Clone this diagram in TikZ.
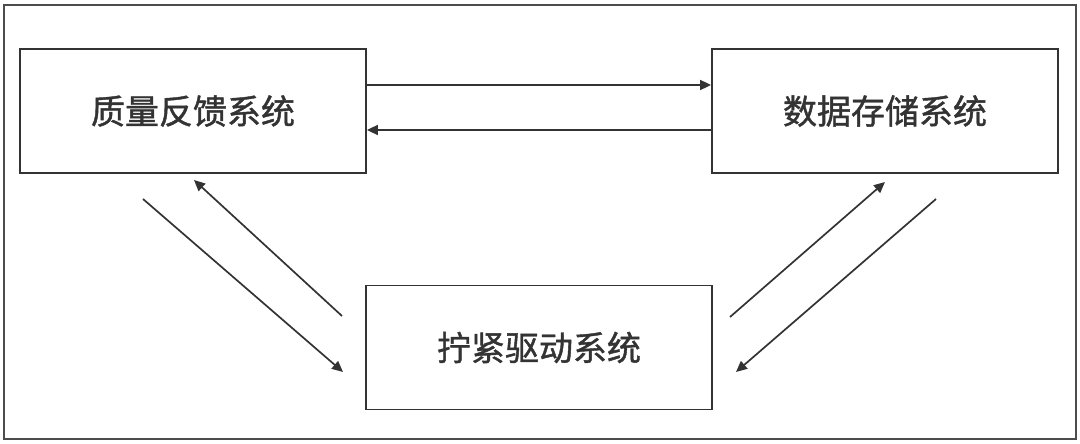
\documentclass[tikz,border=0pt]{standalone}
\usepackage{fontspec}
\newfontfamily\cjk[FakeBold=1.2]{Noto Sans CJK SC}
\usetikzlibrary{arrows.meta}
\begin{document}
\begin{tikzpicture}[x=1pt,y=-1pt,
  sysbox/.style={draw=black!80, line width=1.8pt, minimum width=346pt, minimum height=124pt, inner sep=0pt, font=\cjk\fontsize{34}{38}\selectfont, text=black!80},
  conn/.style={draw=black!80, line width=1.7pt, -{Triangle[length=11pt,width=10pt]}}]
\useasboundingbox (0,0) rectangle (1080,444);
\draw[black!70, line width=1.6pt] (4,5) rectangle (1076,439);
\node[sysbox] (qf) at (193,111) {质量反馈系统};
\node[sysbox] (ds) at (885,111) {数据存储系统};
\node[sysbox] (nj) at (539,347.5) {拧紧驱动系统};
\draw[conn] ([yshift=26pt]qf.east) -- ([yshift=26pt]ds.west);
\draw[conn] ([yshift=-19pt]ds.west) -- ([yshift=-19pt]qf.east);
\coordinate (a1s) at (143,199);
\coordinate (a1e) at (343,372);
\coordinate (a2s) at (342,316);
\coordinate (a2e) at (194,180);
\coordinate (b1s) at (730,317);
\coordinate (b1e) at (885,182);
\coordinate (b2s) at (936,199);
\coordinate (b2e) at (736,372);
\draw[conn] (a1s) -- (a1e);
\draw[conn] (a2s) -- (a2e);
\draw[conn] (b1s) -- (b1e);
\draw[conn] (b2s) -- (b2e);
\end{tikzpicture}
\end{document}
